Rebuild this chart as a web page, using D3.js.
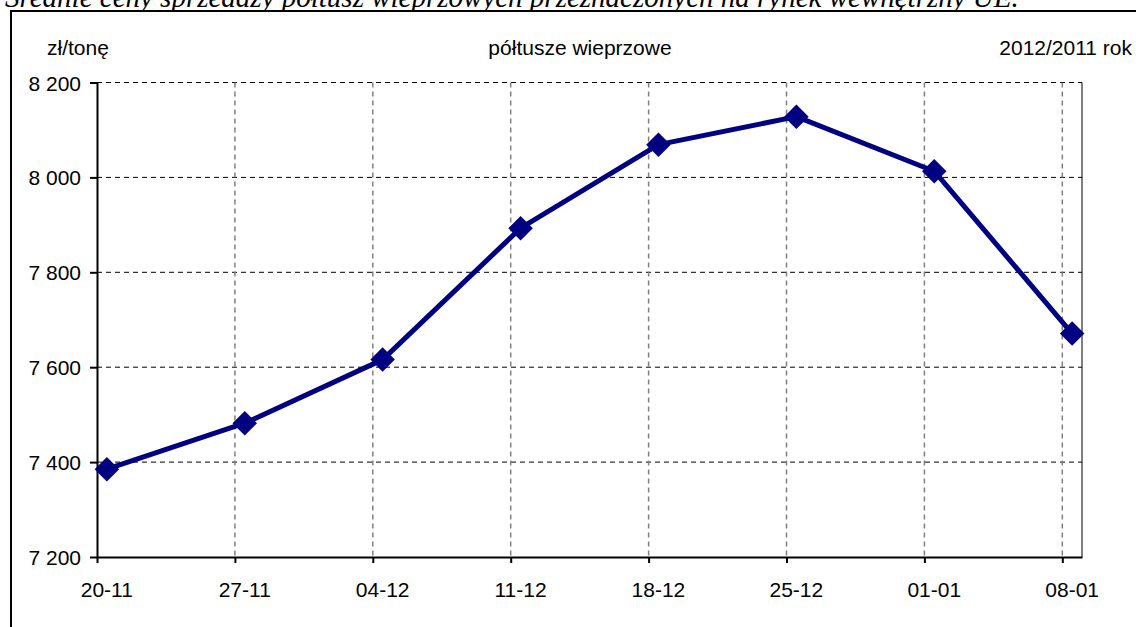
<!DOCTYPE html>
<html>
<head>
<meta charset="utf-8">
<script src="https://cdn.jsdelivr.net/npm/d3@7"></script>
<style>
  body { margin: 0; background: #fff; }
  svg { display: block; }
  text { font-family: "Liberation Sans", Arial, sans-serif; fill: #000; }
</style>
</head>
<body>
<svg width="1136" height="627"></svg>
<script>
// dane z wykresu
var weeks = ["2011-11-20", "2011-11-27", "2011-12-04", "2011-12-11", "2011-12-18", "2011-12-25", "2012-01-01", "2012-01-08"];
var weekLabels = ["20-11", "27-11", "04-12", "11-12", "18-12", "25-12", "01-01", "08-01"];
var prices = [7385, 7482, 7616, 7893, 8069, 8128, 8013, 7671];
var yTicks = [7200, 7400, 7600, 7800, 8000, 8200];

var svg = d3.select('svg');
var plotLeft = 97, plotRight = 1082, plotTop = 82.5, plotBottom = 557;
var halfDay = 12 * 3600 * 1000;

var parse = d3.utcParse("%Y-%m-%d");
var dates = weeks.map(parse);

var x = d3.scaleUtc()
	.domain([dates[0], d3.utcDay.offset(dates[dates.length - 1], 1)])
	.range([plotLeft, plotRight]);

var y = d3.scaleLinear()
	.domain([7200, 8200])
	.range([plotBottom, plotTop]);

function px(i) { return x(new Date(+dates[i] + halfDay)); }

// tytul (uciety u gory)
svg.append('text')
	.attr('x', 5).attr('y', 7)
	.style('font-family', '"Liberation Serif", "Times New Roman", serif')
	.style('font-style', 'italic')
	.style('font-size', '29px')
	.text('Średnie ceny sprzedaży półtusz wieprzowych przeznaczonych na rynek wewnętrzny UE.');

// ramka
svg.append('rect')
	.attr('x', 11).attr('y', 11)
	.attr('width', 1200).attr('height', 700)
	.attr('fill', '#fff').attr('stroke', '#000').attr('stroke-width', 2);

// siatka pozioma
svg.append('g').selectAll('line')
	.data(yTicks.slice(1))
	.enter().append('line')
	.attr('x1', plotLeft).attr('x2', plotRight)
	.attr('y1', function (d) { return y(d); })
	.attr('y2', function (d) { return y(d); })
	.attr('stroke', '#000').attr('stroke-width', 1)
	.attr('stroke-dasharray', '5,4');

// siatka pionowa
svg.append('g').selectAll('line')
	.data(dates.slice(1))
	.enter().append('line')
	.attr('x1', function (d) { return x(d); })
	.attr('x2', function (d) { return x(d); })
	.attr('y1', plotTop).attr('y2', plotBottom)
	.attr('stroke', '#808080').attr('stroke-width', 1.5)
	.attr('stroke-dasharray', '5,4');

// prawa krawedz
svg.append('line')
	.attr('x1', plotRight).attr('x2', plotRight)
	.attr('y1', plotTop).attr('y2', plotBottom)
	.attr('stroke', '#000').attr('stroke-width', 1);

// osie
var yAxis = d3.axisLeft(y)
	.tickValues(yTicks)
	.tickSize(7)
	.tickSizeOuter(0)
	.tickFormat(function (d) { return d3.format(",")(d).replace(",", " "); });

var gy = svg.append('g').attr('transform', 'translate(' + plotLeft + ',0)').call(yAxis);
gy.select('.domain').attr('stroke-width', 2);
gy.selectAll('.tick line').attr('stroke-width', 2);
gy.selectAll('.tick text')
	.attr('x', -16).attr('dy', '0.36em')
	.style('font-size', '21px').style('font-family', '"Liberation Sans", Arial, sans-serif');

var xAxis = d3.axisBottom(x)
	.tickValues(dates)
	.tickSize(6)
	.tickSizeOuter(0)
	.tickFormat('');

var gx = svg.append('g').attr('transform', 'translate(0,' + plotBottom + ')').call(xAxis);
gx.select('.domain').attr('stroke-width', 2);
gx.selectAll('.tick line').attr('stroke-width', 2);

svg.append('g').selectAll('text')
	.data(weekLabels)
	.enter().append('text')
	.attr('x', function (d, i) { return px(i); })
	.attr('y', 597)
	.attr('text-anchor', 'middle')
	.style('font-size', '21px')
	.text(function (d) { return d; });

// naglowki
svg.append('text').attr('x', 47).attr('y', 55).style('font-size', '21px').text('zł/tonę');
svg.append('text').attr('x', 580).attr('y', 55).attr('text-anchor', 'middle').style('font-size', '21px').text('półtusze wieprzowe');
svg.append('text').attr('x', 1132).attr('y', 55).attr('text-anchor', 'end').style('font-size', '21px').text('2012/2011 rok');

// seria
var line = d3.line()
	.x(function (d, i) { return px(i); })
	.y(function (d) { return y(d); });

svg.append('path')
	.datum(prices)
	.attr('d', line)
	.attr('fill', 'none')
	.attr('stroke', '#000080')
	.attr('stroke-width', 5)
	.attr('stroke-linejoin', 'round');

var diamond = d3.symbol().type(d3.symbolSquare).size(300);

svg.append('g').selectAll('path')
	.data(prices)
	.enter().append('path')
	.attr('d', diamond)
	.attr('transform', function (d, i) {
		return 'translate(' + px(i) + ',' + y(d) + ') rotate(45)';
	})
	.attr('fill', '#000080');
</script>
</body>
</html>
